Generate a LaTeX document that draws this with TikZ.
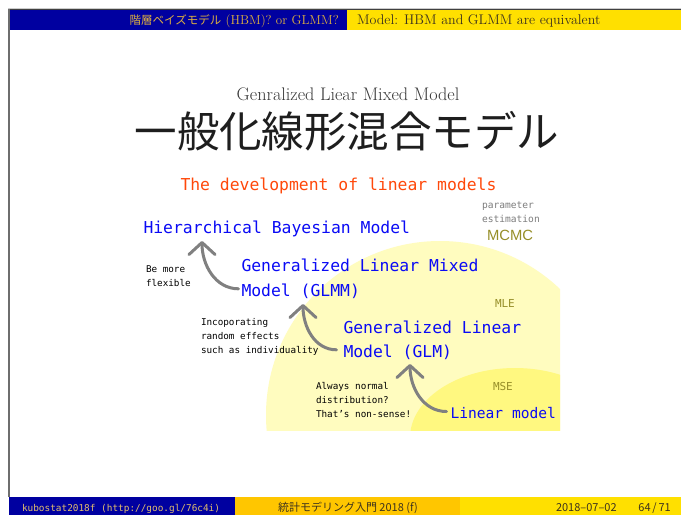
\documentclass[tikz,border=0pt]{standalone}
\usepackage{fontspec}
\usetikzlibrary{arrows.meta}
\newfontfamily\jpfont{Noto Sans CJK JP}
\newfontfamily\monofn{DejaVu Sans Mono}
\newfontfamily\lsfont{Liberation Sans}
\definecolor{barblue}{RGB}{0,0,160}
\definecolor{baryellow}{RGB}{255,224,0}
\definecolor{barorange}{RGB}{255,198,0}
\definecolor{headgold}{RGB}{222,176,64}
\definecolor{footgold}{RGB}{226,190,110}
\definecolor{darktxt}{RGB}{60,50,30}
\definecolor{titlegray}{RGB}{55,55,55}
\definecolor{bigblack}{RGB}{30,30,30}
\definecolor{bluetxt}{RGB}{10,10,245}
\definecolor{orangetxt}{RGB}{255,72,10}
\definecolor{olivetxt}{RGB}{150,142,40}
\definecolor{arrgray}{RGB}{128,128,128}
\definecolor{pargray}{RGB}{125,125,125}
\definecolor{framegray}{RGB}{110,110,110}
\begin{document}
\begin{tikzpicture}[x=1pt,y=-1pt,
  txt/.style={inner sep=0pt, outer sep=0pt, anchor=base west},
  blu/.style={txt, text=bluetxt, font=\monofn\fontsize{16.4}{20}\selectfont},
  small/.style={txt, text=black, font=\monofn\fontsize{9.3}{11}\selectfont},
  param/.style={txt, text=pargray, font=\monofn\fontsize{9.6}{11}\selectfont},
  olive/.style={txt, text=olivetxt, font=\monofn\fontsize{11}{13}\selectfont},
  arr/.style={draw=arrgray, line width=3pt, line cap=round,
    -{Straight Barb[length=12pt,width=26pt,round]}}]
\useasboundingbox (0,0) rectangle (681,515);
\fill[white] (0,0) rectangle (681,515);
% frame and bars
\draw[black!20, line width=1pt] (8,8.5) -- (681,8.5);
\draw[black!75, line width=1pt] (9,9.5) -- (681,9.5);
\fill[barblue] (9,10) rectangle (347,30);
\fill[baryellow] (347,10) rectangle (681,30);
\draw[framegray, line width=2pt] (8.5,8.5) -- (8.5,497);
\fill[barblue] (9,497) rectangle (235,515);
\fill[barorange] (235,497) rectangle (460,515);
\fill[baryellow] (460,497) rectangle (681,515);
\node[inner sep=0pt, anchor=base east, text=headgold, font=\fontsize{13}{16}\selectfont] (hl) at (339,24)
  {{\jpfont\fontsize{11.5}{14}\selectfont 階層ベイズモデル} (HBM)? or GLMM?};
\node[txt, text=darktxt, font=\fontsize{14}{16}\selectfont] (hr) at (357,24)
  {Model: HBM and GLMM are equivalent};
\node[txt, text=footgold, font=\monofn\fontsize{9.4}{11}\selectfont] (fl) at (22,511)
  {kubostat2018f (http://goo.gl/76c4i)};
\node[txt, text=darktxt, font=\jpfont\fontsize{11}{13}\selectfont] (fm) at (278,511)
  {統計モデリング入門 2018 (f)};
\node[txt, text=darktxt, font=\jpfont\fontsize{11}{13}\selectfont] (fd) at (556,511)
  {2018–07–02};
\node[inner sep=0pt, anchor=base east, text=darktxt, font=\jpfont\fontsize{11}{13}\selectfont] (fp) at (671,511)
  {64\,/\,71};
% yellow regions
\begin{scope}
  \clip (9,30) rectangle (560,430);
  \fill[yellow!25] (440,415) ellipse [x radius=174pt, y radius=174pt];
  \fill[yellow!50] (515,438) ellipse [x radius=105pt, y radius=70pt];
\end{scope}
% titles
\node[inner sep=0pt, anchor=base, text=titlegray, font=\fontsize{18.2}{21}\selectfont] (sub) at (348,100)
  {Genralized Liear Mixed Model};
\node[inner sep=0pt, anchor=base, text=bigblack, font=\jpfont\fontsize{42.5}{46}\selectfont] (big) at (347,147)
  {一般化線形混合モデル};
\node[txt, text=orangetxt, font=\monofn\fontsize{16.4}{20}\selectfont] (dev) at (180.5,190)
  {The development of linear models};
% parameter estimation labels
\node[param] (par1) at (482,208) {parameter};
\node[param] (par2) at (482,222) {estimation};
\node[txt, text=olivetxt, font=\lsfont\fontsize{14.8}{17}\selectfont] (mcmc) at (487,240) {MCMC};
\node[olive] (mle) at (495,307) {MLE};
\node[olive] (mse) at (493,390) {MSE};
% models
\node[blu] (hbm) at (143.5,233) {Hierarchical Bayesian Model};
\node[blu] (glmmA) at (241.5,271) {Generalized Linear Mixed};
\node[blu] (glmmB) at (241.5,296) {Model (GLMM)};
\node[blu] (glmA) at (343.5,333) {Generalized Linear};
\node[blu] (glmB) at (343.5,357) {Model (GLM)};
\node[blu, font=\monofn\fontsize{14.6}{18}\selectfont] (lm) at (450.5,418) {Linear model};
% comments
\node[small] (be1) at (146,272) {Be more};
\node[small] (be2) at (146,286) {flexible};
\node[small] (inc1) at (201,325) {Incoporating};
\node[small] (inc2) at (201,339) {random effects};
\node[small] (inc3) at (201,353) {such as individuality};
\node[small] (alw1) at (316,389) {Always normal};
\node[small] (alw2) at (316,403) {distribution?};
\node[small] (alw3) at (316,417) {That’s non-sense!};
% arrows
\coordinate (t1) at (202,241);
\coordinate (t2) at (303,304);
\coordinate (t3) at (410,364);
\draw[arr] ([xshift=-3pt,yshift=2pt]glmmB.west) to[out=180,in=-90] (t1);
\draw[arr] ([xshift=-7pt,yshift=2pt]glmB.west) to[out=180,in=-90] (t2);
\draw[arr] ([xshift=-4pt,yshift=1pt]lm.west) to[out=180,in=-90] (t3);
\end{tikzpicture}
\end{document}
